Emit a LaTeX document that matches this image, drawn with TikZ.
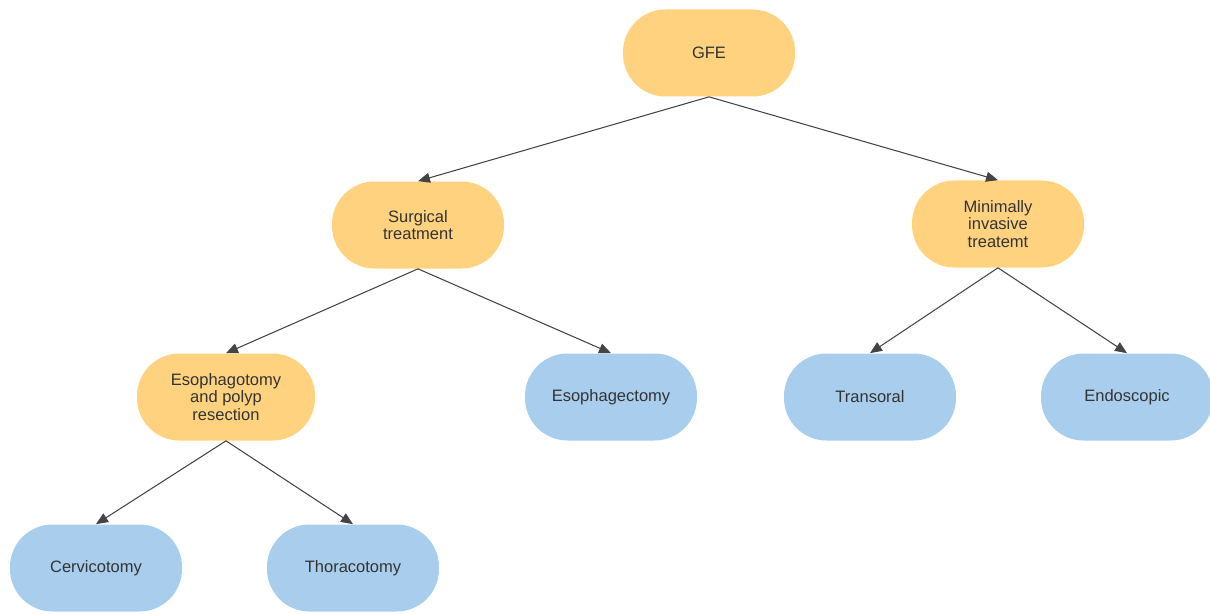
\documentclass[tikz,border=0pt]{standalone}
\usepackage{fontspec}
\setmainfont{Liberation Sans}
\usepackage{xcolor}
\usepackage{tikz}
\usetikzlibrary{arrows.meta, positioning}

\definecolor{treatorange}{HTML}{FFD27F}
\definecolor{leafblue}{HTML}{A9CDEC}
\definecolor{textgray}{HTML}{333333}
\definecolor{linegray}{HTML}{444444}

\begin{document}
\begin{tikzpicture}[
  box/.style={rounded corners=0.85cm, minimum width=3.44cm, minimum height=1.74cm,
    align=center, text=textgray, font=\fontsize{9.4}{10}\selectfont},
  inner/.style={box, fill=treatorange},
  leaf/.style={box, fill=leafblue},
  link/.style={draw=linegray, line width=0.6pt, -{Triangle[length=2.4mm, width=2mm]}}
]
  % canvas 1210x613 px, 1 px = 0.02 cm
  \useasboundingbox (0,0) rectangle (24.2,12.26);

  % root and second level
  \node[inner] (gfe) at (14.18,11.20) {GFE};
  \node[inner] (surg) at (8.36,7.76) {Surgical\\treatment};
  \node[inner] (mini) at (19.96,7.78) {Minimally\\invasive\\treatemt};

  % third level
  \node[inner, minimum width=3.56cm] (esotomy) at (4.52,4.32) {Esophagotomy\\and polyp\\resection};
  \node[leaf] (esectomy) at (12.22,4.32) {Esophagectomy};
  \node[leaf] (transoral) at (17.40,4.32) {Transoral};
  \node[leaf] (endo) at (22.54,4.32) {Endoscopic};

  % bottom level
  \node[leaf] (cervico) at (1.92,0.90) {Cervicotomy};
  \node[leaf] (thoraco) at (7.06,0.90) {Thoracotomy};

  % connectors
  \draw[link] (gfe.south) -- (surg.north);
  \draw[link] (gfe.south) -- (mini.north);
  \draw[link] (surg.south) -- (esotomy.north);
  \draw[link] (surg.south) -- (esectomy.north);
  \draw[link] (mini.south) -- (transoral.north);
  \draw[link] (mini.south) -- (endo.north);
  \draw[link] (esotomy.south) -- (cervico.north);
  \draw[link] (esotomy.south) -- (thoraco.north);
\end{tikzpicture}
\end{document}
